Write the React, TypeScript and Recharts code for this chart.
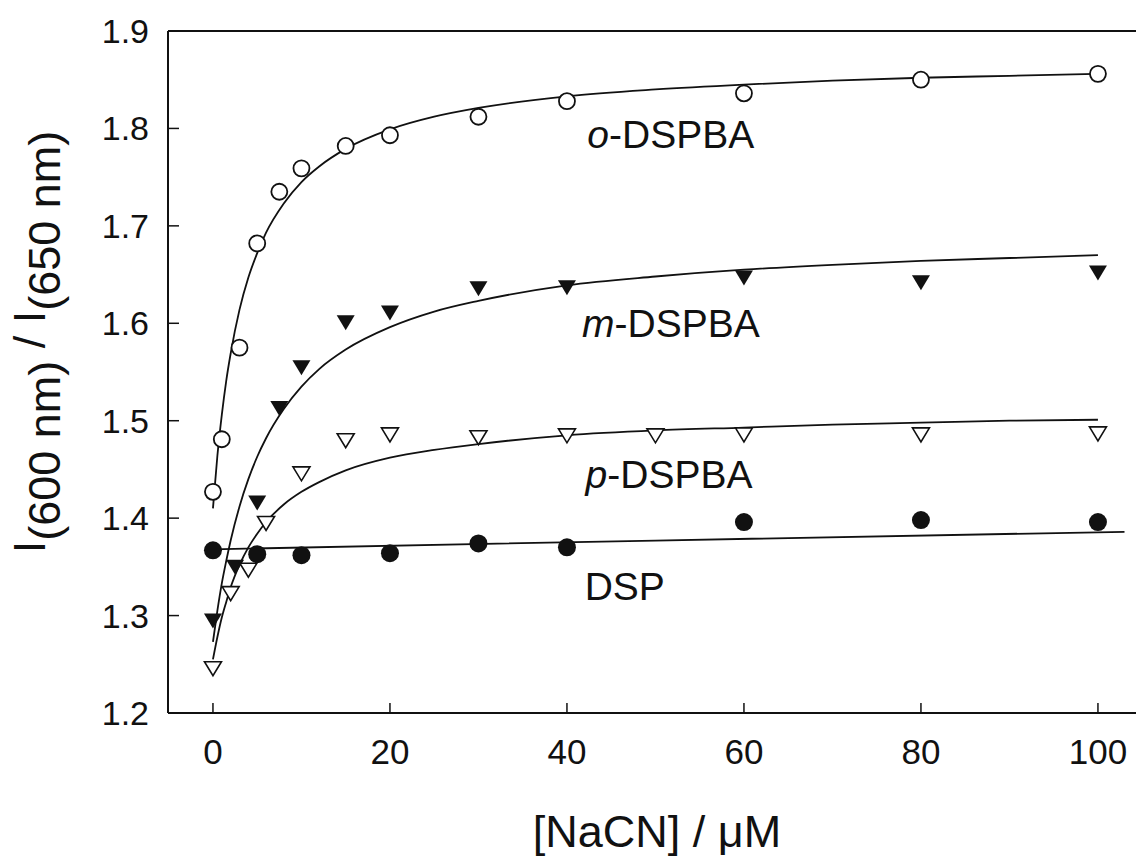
import { ComposedChart, Line, Scatter, XAxis, YAxis, ReferenceLine } from 'recharts';

// measured points
const oX = [0, 1, 3, 5, 7.5, 10, 15, 20, 30, 40, 60, 80, 100];
const oY = [1.427, 1.481, 1.575, 1.682, 1.735, 1.759, 1.782, 1.793, 1.812, 1.828, 1.836, 1.85, 1.856];
const mX = [0, 2.5, 5, 7.5, 10, 15, 20, 30, 40, 60, 80, 100];
const mY = [1.295, 1.35, 1.416, 1.513, 1.555, 1.601, 1.611, 1.636, 1.637, 1.647, 1.642, 1.652];
const pX = [0, 2, 4, 6, 10, 15, 20, 30, 40, 50, 60, 80, 100];
const pY = [1.246, 1.323, 1.347, 1.395, 1.446, 1.48, 1.486, 1.483, 1.485, 1.485, 1.486, 1.486, 1.487];
const dspX = [0, 5, 10, 20, 30, 40, 60, 80, 100];
const dspY = [1.367, 1.363, 1.362, 1.364, 1.374, 1.37, 1.396, 1.398, 1.396];

// fitted curves
const fitX = [0, 0.5, 1, 1.5, 2, 3, 4, 5, 6, 8, 10, 12, 15, 20, 25, 30, 40, 50, 60, 70, 80, 90, 100];
const oFit = [1.41, 1.464, 1.506, 1.541, 1.569, 1.614, 1.647, 1.672, 1.693, 1.723, 1.745, 1.761, 1.779, 1.799, 1.812, 1.821, 1.833, 1.84, 1.845, 1.849, 1.852, 1.854, 1.856];
const mFit = [1.273, 1.305, 1.333, 1.356, 1.377, 1.412, 1.44, 1.463, 1.482, 1.512, 1.535, 1.553, 1.573, 1.596, 1.612, 1.623, 1.639, 1.648, 1.655, 1.66, 1.664, 1.667, 1.67];
const pFit = [1.255, 1.278, 1.298, 1.314, 1.329, 1.352, 1.37, 1.384, 1.396, 1.414, 1.427, 1.437, 1.449, 1.462, 1.47, 1.476, 1.485, 1.49, 1.493, 1.496, 1.498, 1.5, 1.501];
const dspFitX = [0, 50, 103];
const dspFit = [1.368, 1.377, 1.386];

// series labels
const labelPrefix = ['o', 'm', 'p', ''];
const labelName = ['-DSPBA', '-DSPBA', '-DSPBA', 'DSP'];
const labelX = [42.3, 41.7, 42.1, 42.0];
const labelY = [1.7795, 1.5857, 1.4308, 1.316];

const xTicks = [0, 20, 40, 60, 80, 100];
const yTicks = [1.2, 1.3, 1.4, 1.5, 1.6, 1.7, 1.8, 1.9];

const zip = (xs: number[], ys: number[]) => xs.map((x, i) => ({ x, y: ys[i] }));

const oPts = zip(oX, oY);
const mPts = zip(mX, mY);
const pPts = zip(pX, pY);
const dspPts = zip(dspX, dspY);
const labels = labelX.map((x, i) => ({ x, y: labelY[i], prefix: labelPrefix[i], name: labelName[i] }));

const FONT = '"Liberation Sans", Arial, Helvetica, sans-serif';
const INK = '#111';

const OpenCircle = (p: any) => <circle cx={p.cx} cy={p.cy} r={8} fill="#fff" stroke={INK} strokeWidth={1.8} />;
const FilledCircle = (p: any) => <circle cx={p.cx} cy={p.cy} r={9} fill={INK} />;
const FilledTri = (p: any) => (
  <polygon points={`${p.cx - 9},${p.cy - 7} ${p.cx + 9},${p.cy - 7} ${p.cx},${p.cy + 8}`} fill={INK} />
);
const OpenTri = (p: any) => (
  <polygon points={`${p.cx - 8.5},${p.cy - 6.5} ${p.cx + 8.5},${p.cy - 6.5} ${p.cx},${p.cy + 7.5}`} fill="#fff" stroke={INK} strokeWidth={1.6} />
);

const SeriesLabel = (p: any) => (
  <text x={p.cx} y={p.cy} fontFamily={FONT} fontSize={39} fill={INK}>
    {p.payload.prefix ? <tspan fontStyle="italic">{p.payload.prefix}</tspan> : null}
    <tspan>{p.payload.name}</tspan>
  </text>
);

const XTick = (p: any) => (
  <g>
    <line x1={p.x} y1={p.y} x2={p.x} y2={p.y - 10} stroke={INK} strokeWidth={1.5} />
    <text x={p.x} y={p.y + 51} textAnchor="middle" fontFamily={FONT} fontSize={35} fill={INK}>
      {p.payload.value}
    </text>
  </g>
);

const YTick = (p: any) => (
  <g>
    <line x1={p.x} y1={p.y} x2={p.x + 11} y2={p.y} stroke={INK} strokeWidth={1.5} />
    <text x={p.x - 19} y={p.y + 12} textAnchor="end" fontFamily={FONT} fontSize={34} fill={INK}>
      {p.payload.value.toFixed(1)}
    </text>
  </g>
);

const YTitle = () => (
  <text transform="translate(45, 342) rotate(-90)" textAnchor="middle" fontFamily={FONT} fontSize={45} fill={INK}>
    <tspan>I</tspan>
    <tspan dy={15}>(600 nm)</tspan>
    <tspan dy={-15}> / I</tspan>
    <tspan dy={15}>(650 nm)</tspan>
  </text>
);

const XTitle = () => (
  <text x={657} y={847} textAnchor="middle" fontFamily={FONT} fontSize={45} fill={INK}>
    [NaCN] / μM
  </text>
);

export default function App() {
  return (
    <div style={{ position: 'absolute', left: 0, top: 0, width: 1136, height: 859, background: '#fff' }}>
      <ComposedChart width={1136} height={859} margin={{ top: 31, right: 0, bottom: 0, left: 0 }}>
        <XAxis
          type="number"
          dataKey="x"
          domain={[-5.08, 104.3]}
          allowDataOverflow
          ticks={xTicks}
          height={146}
          tickSize={0}
          tickMargin={0}
          tickLine={false}
          axisLine={{ stroke: INK, strokeWidth: 2 }}
          tick={<XTick />}
          label={<XTitle />}
        />
        <YAxis
          type="number"
          domain={[1.2, 1.9]}
          allowDataOverflow
          ticks={yTicks}
          width={168}
          tickSize={0}
          tickMargin={0}
          tickLine={false}
          axisLine={{ stroke: INK, strokeWidth: 2 }}
          tick={<YTick />}
          label={<YTitle />}
        />
        <ReferenceLine y={1.9} stroke={INK} strokeWidth={2} />
        <Line data={zip(fitX, oFit)} dataKey="y" type="monotone" stroke={INK} strokeWidth={1.8} dot={false} isAnimationActive={false} />
        <Line data={zip(fitX, mFit)} dataKey="y" type="monotone" stroke={INK} strokeWidth={1.8} dot={false} isAnimationActive={false} />
        <Line data={zip(fitX, pFit)} dataKey="y" type="monotone" stroke={INK} strokeWidth={1.8} dot={false} isAnimationActive={false} />
        <Line data={zip(dspFitX, dspFit)} dataKey="y" type="linear" stroke={INK} strokeWidth={1.8} dot={false} isAnimationActive={false} />
        <Scatter data={oPts} dataKey="y" shape={OpenCircle} isAnimationActive={false} />
        <Scatter data={mPts} dataKey="y" shape={FilledTri} isAnimationActive={false} />
        <Scatter data={pPts} dataKey="y" shape={OpenTri} isAnimationActive={false} />
        <Scatter data={dspPts} dataKey="y" shape={FilledCircle} isAnimationActive={false} />
        <Scatter data={labels} dataKey="y" shape={SeriesLabel} isAnimationActive={false} />
      </ComposedChart>
    </div>
  );
}
